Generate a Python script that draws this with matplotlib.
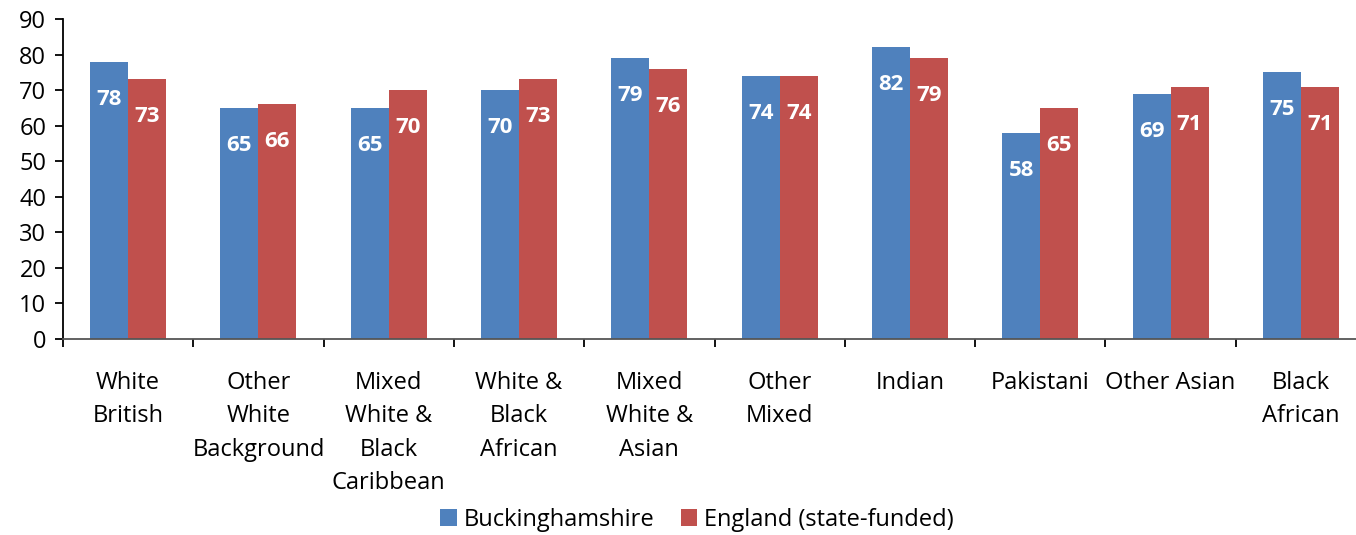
import matplotlib
matplotlib.use("Agg")
import matplotlib.pyplot as plt
import numpy as np

plt.rcParams['font.family'] = ['Open Sans', 'DejaVu Sans']

# categories and values
categories = ["White\nBritish", "Other\nWhite\nBackground", "Mixed\nWhite &\nBlack\nCaribbean",
              "White &\nBlack\nAfrican", "Mixed\nWhite &\nAsian", "Other\nMixed", "Indian",
              "Pakistani", "Other Asian", "Black\nAfrican"]
bucks = [78, 65, 65, 70, 79, 74, 82, 58, 69, 75]
england = [73, 66, 70, 73, 76, 74, 79, 65, 71, 71]
series_names = ["Buckinghamshire", "England (state-funded)"]
colors = ["#4F81BD", "#C0504D"]

W, H = 1356, 535
fig = plt.figure(figsize=(W / 100, H / 100), dpi=100)
# plot area (pixels): left 63, bottom axis at y=339, top at 19, 130 px per category
ax = fig.add_axes([63 / W, (H - 339) / H, 1303 / W, 320 / H])

x = np.arange(len(categories))
bw = 0.292
bars1 = ax.bar(x - bw / 2, bucks, bw, color=colors[0], label=series_names[0])
bars2 = ax.bar(x + bw / 2, england, bw, color=colors[1], label=series_names[1])

for bars, vals in ((bars1, bucks), (bars2, england)):
    for b, v in zip(bars, vals):
        ax.annotate(str(v), (b.get_x() + b.get_width() / 2, v), xytext=(0, -27),
                    textcoords="offset points", ha="center", va="center",
                    color="white", fontsize=16, fontweight="bold")

ax.set_xlim(-0.5, len(categories) - 0.5)
ax.set_ylim(0, 90)
ax.set_yticks(range(0, 91, 10))
ax.tick_params(axis="y", labelsize=17, length=6, width=1.3, pad=6, direction="out")

# boundary ticks (major, no labels) and centred labels (minor, no marks)
ax.set_xticks(np.arange(len(categories) + 1) - 0.5)
ax.set_xticklabels([])
ax.tick_params(axis="x", which="major", length=6, width=1.3, direction="out")
ax.set_xticks(x, minor=True)
ax.set_xticklabels(categories, minor=True, fontsize=17, linespacing=1.52, va="top")
ax.tick_params(axis="x", which="minor", length=0, pad=23)

for s in ("top", "right"):
    ax.spines[s].set_visible(False)
ax.spines["left"].set_linewidth(1.3)
ax.spines["bottom"].set_linewidth(1.3)
ax.spines["bottom"].set_color("#555555")

fig.legend(loc="center", bbox_to_anchor=(697 / W, (H - 520) / H), ncol=2, frameon=False,
           fontsize=17, handlelength=0.7, handleheight=0.7, handletextpad=0.3,
           columnspacing=1.1, borderpad=0.1)

fig.savefig("out.png", dpi=100)
